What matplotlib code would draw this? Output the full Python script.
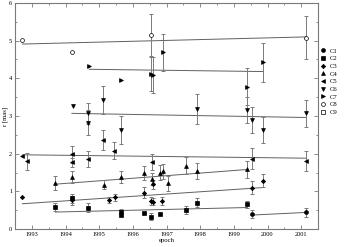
import numpy as np
import matplotlib
matplotlib.use("Agg")
import matplotlib.pyplot as plt
from matplotlib.ticker import MultipleLocator
from matplotlib.lines import Line2D

plt.rcParams['font.family'] = ['Liberation Serif', 'DejaVu Serif']

names = ['C1', 'C2', 'C3', 'C4', 'C5', 'C6', 'C7', 'C8', 'C9']
markers = ['o', 's', 'D', '^', '<', 'v', '>', 'o', 's']
filled = [True, True, True, True, True, True, True, False, False]

# epochs, radius [mas], error (0 = no bar)
c1_t = [1999.54, 2001.15]
c1_r = [0.39, 0.44]
c1_e = [0.11, 0.11]

c2_t = [1993.70, 1994.19, 1994.68, 1995.65, 1995.65, 1996.33, 1996.53, 1996.82, 1997.57, 1997.92, 1999.40]
c2_r = [0.58, 0.81, 0.56, 0.44, 0.38, 0.43, 0.33, 0.40, 0.50, 0.70, 0.66]
c2_e = [0.10, 0.13, 0.12, 0.10, 0.0, 0.0, 0.10, 0.0, 0.11, 0.11, 0.09]

c3_t = [1992.72, 1994.19, 1995.30, 1995.47, 1996.34, 1996.55, 1996.60, 1996.60, 1996.88, 1999.54, 1999.86]
c3_r = [0.84, 0.76, 0.78, 0.84, 0.96, 0.75, 0.73, 1.19, 0.75, 1.10, 1.28]
c3_e = [0.0, 0.12, 0.08, 0.10, 0.15, 0.10, 0.10, 0.12, 0.10, 0.18, 0.17]

c4_t = [1993.70, 1994.19, 1995.15, 1995.65, 1996.34, 1996.56, 1996.82, 1996.90, 1997.03, 1997.57, 1997.92, 1999.40]
c4_r = [1.22, 1.38, 1.18, 1.37, 1.48, 1.33, 1.49, 1.53, 1.21, 1.68, 1.54, 1.58]
c4_e = [0.18, 0.17, 0.13, 0.16, 0.18, 0.17, 0.20, 0.20, 0.20, 0.23, 0.21, 0.22]

c5_t = [1992.72, 1992.85, 1994.19, 1994.19, 1994.68, 1995.12, 1995.45, 1996.58, 1999.54, 2001.15]
c5_r = [1.93, 1.80, 1.98, 1.77, 1.86, 2.36, 2.08, 1.78, 1.87, 1.81]
c5_e = [0.0, 0.23, 0.22, 0.12, 0.22, 0.27, 0.23, 0.22, 0.27, 0.27]

c6_t = [1994.21, 1994.68, 1994.68, 1995.12, 1995.65, 1997.92, 1999.40, 1999.54, 1999.86, 2001.15]
c6_r = [3.27, 3.07, 2.82, 3.42, 2.63, 3.19, 3.16, 2.89, 2.63, 3.07]
c6_e = [0.0, 0.27, 0.33, 0.38, 0.38, 0.39, 0.35, 0.35, 0.35, 0.35]

c7_t = [1994.71, 1995.65, 1996.54, 1996.60, 1996.90, 1999.40, 1999.88]
c7_r = [4.34, 3.96, 4.12, 4.09, 4.69, 3.78, 4.43]
c7_e = [0.0, 0.0, 0.46, 0.47, 0.50, 0.50, 0.52]

c8_t = [1992.72, 1994.19, 1996.54, 2001.15]
c8_r = [5.02, 4.69, 5.14, 5.08]
c8_e = [0.0, 0.0, 0.58, 0.58]

c9_t = []
c9_r = []
c9_e = []

# linear fits: start/end epoch and radius
fit_t0 = [1999.54, 1993.70, 1992.72, 1993.70, 1992.72, 1994.19, 1994.71, 1992.72]
fit_t1 = [2001.15, 1999.40, 1999.86, 1999.40, 2001.15, 2001.15, 1999.88, 2001.15]
fit_r0 = [0.37, 0.45, 0.67, 1.19, 1.97, 3.07, 4.24, 4.91]
fit_r1 = [0.44, 0.57, 1.10, 1.58, 1.88, 2.96, 4.18, 5.10]

series = [(c1_t, c1_r, c1_e), (c2_t, c2_r, c2_e), (c3_t, c3_r, c3_e),
          (c4_t, c4_r, c4_e), (c5_t, c5_r, c5_e), (c6_t, c6_r, c6_e),
          (c7_t, c7_r, c7_e), (c8_t, c8_r, c8_e), (c9_t, c9_r, c9_e)]

fig = plt.figure(figsize=(3.49, 2.47), dpi=100)
ax = fig.add_axes([15/349, 18/247, 303/349, 226/247])

grey = '#7a7a7a'
for t0, t1, r0, r1 in zip(fit_t0, fit_t1, fit_r0, fit_r1):
    ax.plot([t0, t1], [r0, r1], color='#606060', lw=0.7, zorder=1)

handles = []
for (t, r, e), m, f, n in zip(series, markers, filled, names):
    t = np.array(t); r = np.array(r); e = np.array(e)
    ms = 2.3 if m in ('s', 'D') else 2.8
    if m == 'D':
        ms = 2.2
    if len(t):
        k = e > 0
        if k.any():
            ax.errorbar(t[k], r[k], yerr=e[k], fmt='none', ecolor=grey,
                        elinewidth=0.7, capsize=1.6, capthick=0.7, zorder=2)
        ax.plot(t, r, linestyle='none', marker=m, ms=ms,
                mfc='black' if f else 'white', mec='black', mew=0.5, zorder=3)
    handles.append(Line2D([], [], linestyle='none', marker=m, ms=ms,
                          mfc='black' if f else 'white', mec='black', mew=0.5, label=n))

ax.set_xlim(1992.5, 2001.5)
ax.set_ylim(0, 6)
ax.xaxis.set_major_locator(MultipleLocator(1))
ax.xaxis.set_minor_locator(MultipleLocator(0.5))
ax.yaxis.set_major_locator(MultipleLocator(1))
ax.yaxis.set_minor_locator(MultipleLocator(0.5))
ax.tick_params(which='both', direction='in', top=True, right=True,
               color=grey, width=0.6, labelsize=4.6, pad=2)
ax.tick_params(which='major', length=3)
ax.tick_params(which='minor', length=1.6)
for s in ax.spines.values():
    s.set_color(grey)
    s.set_linewidth(0.8)

ax.set_xlabel('epoch', fontsize=4.8, labelpad=1)
ax.set_ylabel('r [mas]', fontsize=4.8, labelpad=1)

fig.legend(handles=handles, loc='upper left', bbox_to_anchor=(320/349, 1 - 48/247),
           frameon=False, fontsize=4.8, handlelength=0.8, handletextpad=0.6,
           labelspacing=0.3, borderpad=0, borderaxespad=0)

fig.savefig('out.png', dpi=100)
